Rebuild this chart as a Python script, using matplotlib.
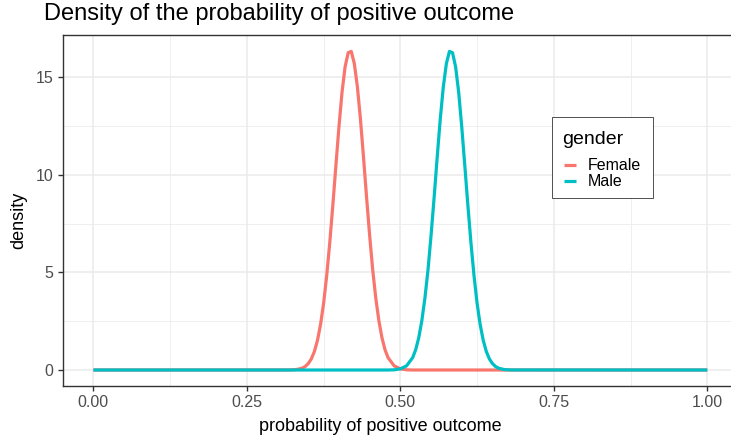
import matplotlib
matplotlib.use("Agg")
import matplotlib.pyplot as plt
from matplotlib.ticker import MultipleLocator
from matplotlib.patches import Rectangle
from matplotlib.lines import Line2D

plt.rcParams["font.family"] = ["Liberation Sans", "DejaVu Sans"]

# densities
female_x = [0.00, 0.32, 0.33, 0.34, 0.345, 0.35, 0.355, 0.36, 0.365, 0.37, 0.375, 0.38,
            0.385, 0.39, 0.395, 0.40, 0.405, 0.41, 0.415, 0.42, 0.425, 0.43, 0.435,
            0.44, 0.445, 0.45, 0.455, 0.46, 0.465, 0.47, 0.475, 0.48, 0.49, 0.50,
            0.51, 0.52, 1.00]
female_y = [0.0, 0.003, 0.02, 0.09, 0.18, 0.33, 0.57, 0.95, 1.52, 2.33, 3.42, 4.83,
            6.52, 8.44, 10.47, 12.47, 14.24, 15.54, 16.26, 16.33, 15.71, 14.52, 12.86,
            10.9, 8.84, 6.89, 5.12, 3.68, 2.53, 1.66, 1.04, 0.63, 0.21, 0.06,
            0.01, 0.0, 0.0]
male_x = [0.00, 0.48, 0.49, 0.50, 0.51, 0.52, 0.525, 0.53, 0.535, 0.54, 0.545, 0.55,
          0.555, 0.56, 0.565, 0.57, 0.575, 0.58, 0.585, 0.59, 0.595, 0.60, 0.605,
          0.61, 0.615, 0.62, 0.625, 0.63, 0.635, 0.64, 0.645, 0.65, 0.655, 0.66,
          0.67, 0.68, 1.00]
male_y = [0.0, 0.0, 0.01, 0.06, 0.21, 0.63, 1.04, 1.66, 2.53, 3.68, 5.12, 6.89,
          8.84, 10.9, 12.86, 14.52, 15.71, 16.33, 16.26, 15.54, 14.24, 12.47, 10.47,
          8.44, 6.52, 4.83, 3.42, 2.33, 1.52, 0.95, 0.57, 0.33, 0.18, 0.09,
          0.02, 0.003, 0.0]
groups = ["Female", "Male"]
colors = ["#F8766D", "#00BFC4"]

W, H = 731, 440
fig = plt.figure(figsize=(W / 100, H / 100), dpi=100)
ax = fig.add_axes([62.7 / W, 54 / H, (738.0 - 62.7) / W, (386 - 35) / H])

ax.plot(female_x, female_y, color=colors[0], lw=2.3, solid_capstyle="butt")
ax.plot(male_x, male_y, color=colors[1], lw=2.3, solid_capstyle="butt")

ax.set_xlim(-0.05, 1.05)
ax.set_ylim(-0.82, 17.17)
ax.xaxis.set_minor_locator(MultipleLocator(0.125))
ax.yaxis.set_minor_locator(MultipleLocator(2.5))
ax.set_xticks([0, 0.25, 0.5, 0.75, 1.0])
ax.set_xticklabels(["0.00", "0.25", "0.50", "0.75", "1.00"])
ax.set_yticks([0, 5, 10, 15])
ax.set_yticklabels(["0", "5", "10", "15"])
ax.grid(which="major", color="#EBEBEB", lw=1.1)
ax.grid(which="minor", color="#EBEBEB", lw=0.55)
ax.set_axisbelow(True)
ax.tick_params(which="major", length=3.5, width=1.0, color="#333333",
               labelcolor="#4D4D4D", labelsize=11.5, pad=3)
ax.tick_params(which="minor", length=0)
for s in ax.spines.values():
    s.set_color("#333333")
    s.set_linewidth(1.0)

ax.set_xlabel("probability of positive outcome", fontsize=13)
ax.xaxis.set_label_coords(0.471, -0.09)
ax.set_ylabel("density", fontsize=13)
ax.yaxis.set_label_coords(-0.053, 0.473)
fig.text(44 / W, 1 - 14 / H, "Density of the probability of positive outcome",
         fontsize=17, va="center", ha="left")

# legend box drawn by hand to match the reference spacing
fig.add_artist(Rectangle((552 / W, 1 - 198 / H), 101 / W, 81 / H, transform=fig.transFigure,
                         facecolor="white", edgecolor="#333333", lw=0.6, zorder=5))
fig.text(562 / W, 1 - 140 / H, "gender", fontsize=14, va="center", ha="left", zorder=6)
for i, (g, c) in enumerate(zip(groups, colors)):
    yy = 1 - (165 + 16 * i) / H
    fig.add_artist(Line2D([564 / W, 576 / W], [yy, yy], transform=fig.transFigure,
                          color=c, lw=2.3, solid_capstyle="butt", zorder=6))
    fig.text(588 / W, yy, g, fontsize=11.5, va="center", ha="left", zorder=6)

fig.savefig("out.png", dpi=100)
